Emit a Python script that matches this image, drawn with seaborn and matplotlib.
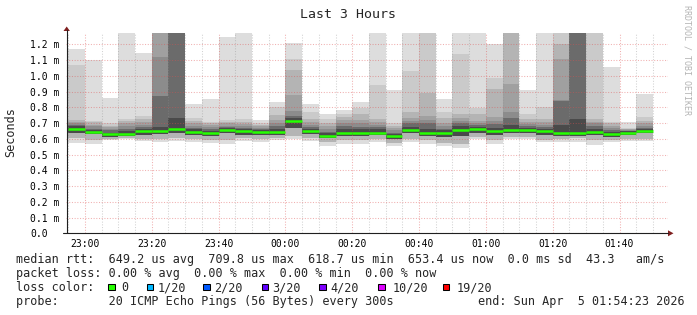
import numpy as np
import pandas as pd
import matplotlib
matplotlib.use("Agg")
import matplotlib.pyplot as plt
import matplotlib.dates as mdates
from matplotlib.patches import Rectangle, Polygon
from matplotlib.lines import Line2D
import seaborn as sns

W, H = 697, 315
C = 1.275  # values at the top edge (clipped smoke)

title = "Last 3 Hours"
graph_start = "2026-04-04 22:54:23"
graph_end = "2026-04-05 01:54:23"
first_bin = "2026-04-04 22:55:00"
step_minutes = 5

# smoke band tops (ms), outermost pair first
top1 = [1.17, 1.10, 0.86, C, 1.145, C, C, 0.824, 0.855, 1.25, C, 0.72, 0.836, 1.208, 0.822, 0.758, 0.783, 0.836,
        C, 0.908, C, C, 0.855, C, C, 1.204, C, 0.908, C, C, C, C, 1.056, 0.708, 0.886]
top2 = [1.07, 0.715, 0.70, 0.725, 0.745, C, C, 0.73, 0.71, 0.72, 0.725, 0.70, 0.80, 1.107, 0.77, 0.726, 0.758, 0.794,
        0.942, 0.70, 1.033, C, 0.771, 1.141, 0.796, 0.988, C, 0.756, 0.803, C, C, C, 0.71, 0.67, 0.737]
top3 = [0.72, 0.705, 0.685, 0.715, 0.725, C, C, 0.715, 0.70, 0.71, 0.71, 0.69, 0.752, 1.04, 0.726, 0.70, 0.737, 0.758,
        0.726, 0.685, 0.769, 0.89, 0.73, 0.76, 0.758, 0.918, C, 0.724, 0.724, 1.20, C, 0.724, 0.70, 0.665, 0.714]
top4 = [0.71, 0.69, 0.675, 0.70, 0.71, C, C, 0.70, 0.69, 0.70, 0.695, 0.68, 0.72, 0.88, 0.71, 0.68, 0.72, 0.72,
        0.71, 0.67, 0.73, 0.745, 0.70, 0.73, 0.712, 0.739, 0.946, 0.71, 0.71, 1.11, C, 0.71, 0.685, 0.66, 0.70]
top5 = [0.70, 0.68, 0.665, 0.68, 0.69, 1.12, C, 0.685, 0.675, 0.685, 0.68, 0.67, 0.70, 0.78, 0.69, 0.665, 0.70, 0.70,
        0.69, 0.655, 0.715, 0.72, 0.68, 0.715, 0.70, 0.715, 0.77, 0.695, 0.69, 0.85, C, 0.70, 0.67, 0.655, 0.685]
top6 = [0.69, 0.665, 0.655, 0.66, 0.675, 0.874, C, 0.67, 0.66, 0.675, 0.67, 0.66, 0.68, 0.743, 0.675, 0.645, 0.68, 0.675,
        0.675, 0.64, 0.70, 0.70, 0.665, 0.70, 0.69, 0.695, 0.735, 0.68, 0.675, 0.84, C, 0.685, 0.655, 0.65, 0.672]
core_top = [0.68, 0.655, 0.64, 0.65, 0.66, 0.675, 0.735, 0.66, 0.65, 0.67, 0.66, 0.655, 0.665, 0.73, 0.665, 0.635, 0.66,
            0.66, 0.66, 0.63, 0.675, 0.665, 0.655, 0.68, 0.675, 0.67, 0.69, 0.67, 0.66, 0.69, 0.725, 0.665, 0.645,
            0.648, 0.662]
# smoke band bottoms (ms)
lo1 = [0.575, 0.570, 0.590, 0.602, 0.585, 0.578, 0.588, 0.578, 0.574, 0.568, 0.588, 0.583, 0.595, 0.600, 0.588, 0.557,
       0.568, 0.568, 0.583, 0.553, 0.578, 0.568, 0.553, 0.540, 0.600, 0.568, 0.600, 0.600, 0.578, 0.578, 0.578, 0.562,
       0.578, 0.589, 0.589]
lo2 = [0.605, 0.595, 0.598, 0.608, 0.60, 0.60, 0.605, 0.60, 0.595, 0.595, 0.605, 0.60, 0.605, 0.62, 0.605, 0.58, 0.59,
       0.59, 0.60, 0.575, 0.60, 0.59, 0.575, 0.57, 0.61, 0.59, 0.61, 0.61, 0.595, 0.60, 0.605, 0.59, 0.595, 0.60, 0.60]
lo3 = [0.64, 0.63, 0.615, 0.62, 0.625, 0.63, 0.64, 0.625, 0.62, 0.635, 0.625, 0.625, 0.625, 0.67, 0.63, 0.605, 0.62,
       0.62, 0.625, 0.60, 0.635, 0.62, 0.615, 0.62, 0.64, 0.625, 0.635, 0.635, 0.625, 0.62, 0.62, 0.625, 0.615, 0.625,
       0.635]
median = [0.663, 0.644, 0.629, 0.633, 0.648, 0.652, 0.663, 0.644, 0.640, 0.659, 0.648, 0.644, 0.646, 0.712, 0.652,
          0.621, 0.637, 0.636, 0.640, 0.617, 0.657, 0.638, 0.640, 0.659, 0.663, 0.652, 0.659, 0.659, 0.648, 0.640,
          0.638, 0.644, 0.631, 0.640, 0.652]

ytick_values = [0.0, 0.1, 0.2, 0.3, 0.4, 0.5, 0.6, 0.7, 0.8, 0.9, 1.0, 1.1, 1.2]
ytick_labels = ["0.0", "0.1 m", "0.2 m", "0.3 m", "0.4 m", "0.5 m", "0.6 m", "0.7 m", "0.8 m", "0.9 m",
                "1.0 m", "1.1 m", "1.2 m"]

legend_rtt = "median rtt:  649.2 us avg  709.8 us max  618.7 us min  653.4 us now  0.0 ms sd  43.3   am/s"
legend_loss = "packet loss: 0.00 % avg  0.00 % max  0.00 % min  0.00 % now"
legend_color = "loss color:"
legend_probe = "probe:       20 ICMP Echo Pings (56 Bytes) every 300s"
legend_end = "end: Sun Apr  5 01:54:23 2026"
loss_labels = ["0", "1/20", "2/20", "3/20", "4/20", "10/20", "19/20"]
loss_colors = ["#26ff00", "#00b8ff", "#0059ff", "#5e00ff", "#7e00ff", "#dd00ff", "#ff0000"]
watermark = "RRDTOOL / TOBI OETIKER"

# ---------------------------------------------------------------
sns.set_style("white")
plt.rcParams["font.family"] = ["DejaVu Sans Mono"]

fig = plt.figure(figsize=(W / 100, H / 100), dpi=100)
AX_L, AX_R, AX_T, AX_B = 66.2, 667.6, 32.7, 233.3
ax = fig.add_axes([AX_L / W, 1 - AX_B / H, (AX_R - AX_L) / W, (AX_B - AX_T) / H])


def fx(x):
    return x / W


def fy(y):
    return 1 - y / H


t0 = mdates.date2num(pd.Timestamp(first_bin))
step = step_minutes / 1440.0
n = len(median)
lefts = t0 + step * np.arange(n)

shades = ["#dddddd", "#cacaca", "#b4b4b4", "#a0a0a0", "#8c8c8c", "#6b6b6b"]
tops = [top1, top2, top3, top4, top5, top6]
bottoms = [lo1, lo2, lo2, lo3, lo3, lo3]
for tp, bt, col in zip(tops, bottoms, shades):
    tp = np.minimum(np.array(tp), C)
    bt = np.array(bt)
    ax.bar(lefts, tp - bt, bottom=bt, width=step, align="edge", color=col,
           linewidth=0, antialiased=False, zorder=1)
ax.bar(lefts, np.array(core_top) - np.array(lo3), bottom=lo3, width=step, align="edge",
       color="#4a4a4a", linewidth=0, antialiased=False, zorder=1)

seg = pd.DataFrame({
    "t": np.concatenate([lefts, lefts + step]),
    "rtt": np.concatenate([median, median]),
    "bin": np.concatenate([np.arange(n), np.arange(n)]),
})
sns.lineplot(data=seg, x="t", y="rtt", units="bin", estimator=None, color=loss_colors[0],
             lw=1.8, solid_capstyle="butt", ax=ax, legend=False, zorder=3)
ax.set_xlabel("")
ax.set_ylabel("")

ax.set_xlim(mdates.date2num(pd.Timestamp(graph_start)), mdates.date2num(pd.Timestamp(graph_end)))
ax.set_ylim(0, C)
for s in ax.spines.values():
    s.set_visible(False)

ax.xaxis.set_major_locator(mdates.MinuteLocator(byminute=[0, 20, 40]))
ax.xaxis.set_minor_locator(mdates.MinuteLocator(byminute=range(0, 60, 5)))
ax.xaxis.set_major_formatter(mdates.DateFormatter("%H:%M"))
ax.set_yticks(ytick_values)
ax.set_yticklabels(ytick_labels, ha="left")

ax.set_axisbelow(False)
dot = (0, (1, 1.6))
ax.grid(which="major", axis="both", color="#de5050", alpha=0.45, lw=0.75, ls=dot)
ax.grid(which="minor", axis="x", color="#8f8f8f", alpha=0.4, lw=0.75, ls=dot)
ax.tick_params(axis="y", length=0, pad=(AX_L - 30) * 0.72, labelsize=7.0, labelcolor="black")
ax.tick_params(axis="x", which="major", length=2.2, width=0.75, color="#eeb0b0", pad=2.0,
               labelsize=7.0, labelcolor="black", direction="out")
ax.tick_params(axis="x", which="minor", length=2.2, width=0.75, color="#d0d0d0", direction="out")

# axes lines and arrows
fig.add_artist(Line2D([fx(62.7), fx(668)], [fy(AX_B), fy(AX_B)], color="#1f1f1f", lw=0.8))
fig.add_artist(Line2D([fx(AX_L + 0.5), fx(AX_L + 0.5)], [fy(AX_B), fy(30)], color="#1f1f1f", lw=0.8))
fig.add_artist(Polygon([[fx(AX_L + 0.5), fy(26.5)], [fx(AX_L - 2.7), fy(31)], [fx(AX_L + 3.7), fy(31)]],
                       closed=True, facecolor="#7f1f1f", edgecolor="none"))
fig.add_artist(Polygon([[fx(673.5), fy(AX_B)], [fx(668), fy(AX_B - 3)], [fx(668), fy(AX_B + 3)]],
                       closed=True, facecolor="#7f1f1f", edgecolor="none"))

# texts
fig.text(fx(347.5), fy(18.5), title, ha="center", va="baseline", size=9.5)
fig.text(fx(11), fy(132), "Seconds", rotation=90, ha="center", va="center", size=8.5)
fig.text(fx(687), fy(5), watermark, rotation=270, ha="center", va="top", size=6.0, color="#b4b4b4")

LS = 8.5
fig.text(fx(15.5), fy(263.5), legend_rtt, ha="left", va="baseline", size=LS)
fig.text(fx(15.5), fy(277.5), legend_loss, ha="left", va="baseline", size=LS)
fig.text(fx(15.5), fy(291.2), legend_color, ha="left", va="baseline", size=LS)
fig.text(fx(15.5), fy(305), legend_probe, ha="left", va="baseline", size=LS)
fig.text(fx(477.5), fy(305), legend_end, ha="left", va="baseline", size=LS)

box_x = [108.3, 146.7, 203.3, 261.7, 319.3, 378.3, 442.7]
text_x = [121.0, 157.5, 214.0, 272.0, 330.5, 392.5, 457.0]
for bx, tx, lab, col in zip(box_x, text_x, loss_labels, loss_colors):
    fig.add_artist(Rectangle((fx(bx), fy(290.3)), 6.7 / W, 6.7 / H, transform=fig.transFigure,
                             facecolor=col, edgecolor="black", lw=0.75))
    fig.text(fx(tx), fy(291.2), lab, ha="left", va="baseline", size=LS)

fig.savefig("out.png", dpi=100, facecolor="white")
